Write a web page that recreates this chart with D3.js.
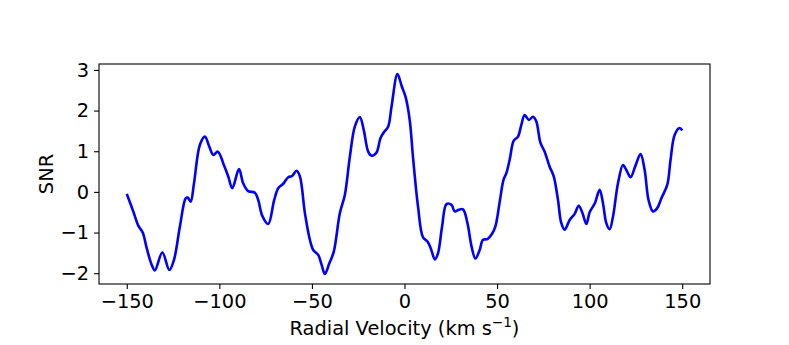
<!DOCTYPE html>
<html>
<head>
<meta charset="utf-8">
<script src="https://cdn.jsdelivr.net/npm/d3@7"></script>
<style>
  body { margin: 0; background: #fff; }
  text { font-family: "DejaVu Sans", sans-serif; }
</style>
</head>
<body>
<div id="chart"></div>
<script>
// velocities (km/s)
var velocity = [-150, -146.5, -143.8, -141.4, -139.2, -136.5, -134.8, -130.8, -127, -124.5,
  -121.3, -118.2, -117.1, -115.5, -113.7, -110.5, -107.8, -105.4, -103.3, -100.8,
  -97.4, -95.2, -93, -89.4, -87.1, -84.4, -80.8, -79, -76.8, -73.6,
  -70.4, -68.2, -65.5, -62.8, -60.7, -58.3, -56.5, -53.8, -51.1, -49.3,
  -46.6, -44.8, -43, -40.7, -38.2, -34.9, -32.2, -29.5, -26.8, -24.1,
  -22, -19.6, -17.8, -15.1, -13, -11.2, -8.8, -7, -3.8, -1.5,
  0.5, 1.5, 3, 4.6, 7.3, 10, 12.4, 14.2, 16.4, 18.1,
  20.3, 22.7, 25.4, 27.1, 29.3, 31.6, 34, 36.2, 38.3, 40.6,
  42.4, 44.8, 47.3, 49.1, 51.4, 53.5, 55, 56.8, 59, 61.3,
  63.1, 64.9, 67.2, 69.4, 71.2, 73.4, 75.7, 78.4, 80.6, 82.9,
  84.7, 86.5, 89.2, 91.9, 94.1, 96.1, 98.2, 100, 102.8, 105.4,
  107.2, 109, 110.8, 112.6, 115.3, 118, 119.8, 122.1, 124.7, 127.5,
  129.7, 131.8, 134.2, 136.5, 138.7, 141.9, 143.7, 145.9, 148.6, 150];

var snr = [-0.05, -0.48, -0.83, -1.0, -1.39, -1.8, -1.93, -1.49, -1.92, -1.67,
  -0.85, -0.16, -0.14, -0.24, 0.21, 1.16, 1.36, 1.11, 0.91, 0.99,
  0.64, 0.38, 0.09, 0.56, 0.21, 0.02, -0.02, -0.2, -0.59, -0.79,
  -0.2, 0.09, 0.2, 0.36, 0.39, 0.52, 0.38, -0.52, -1.18, -1.43,
  -1.55, -1.79, -2.02, -1.77, -1.47, -0.52, -0.07, 0.87, 1.61, 1.84,
  1.52, 0.99, 0.89, 0.97, 1.32, 1.46, 1.61, 2.1, 2.9, 2.6,
  2.35, 2.15, 1.7, 0.85, -0.36, -1.12, -1.22, -1.39, -1.66, -1.51,
  -0.85, -0.3, -0.32, -0.48, -0.44, -0.43, -0.77, -1.34, -1.64, -1.43,
  -1.18, -1.16, -1.03, -0.85, -0.25, 0.3, 0.46, 0.79, 1.26, 1.36,
  1.65, 1.89, 1.77, 1.85, 1.73, 1.21, 0.99, 0.62, 0.38, -0.2,
  -0.77, -0.93, -0.69, -0.54, -0.34, -0.52, -0.79, -0.5, -0.28, 0.05,
  -0.28, -0.77, -0.92, -0.61, 0.21, 0.66, 0.54, 0.36, 0.64, 0.93,
  0.54, -0.2, -0.48, -0.4, -0.16, 0.17, 0.79, 1.4, 1.57, 1.51];

var xTicks = [-150, -100, -50, 0, 50, 100, 150];
var yTicks = [-2, -1, 0, 1, 2, 3];

var width = 789, height = 345;
var margin = {top: 64, right: 79, bottom: 61, left: 99};
var w = width - margin.left - margin.right;
var h = height - margin.top - margin.bottom;
var fontSize = '19.4px';

var svg = d3.select('#chart').append('svg')
    .attr('width', width)
    .attr('height', height);

var g = svg.append('g')
    .attr('transform', 'translate(' + margin.left + ',' + margin.top + ')');

// matplotlib-like 5% padding
var xMin = d3.min(velocity), xMax = d3.max(velocity);
var yMin = d3.min(snr), yMax = d3.max(snr);
var xPad = (xMax - xMin) * 0.05, yPad = (yMax - yMin) * 0.05;

var x = d3.scaleLinear().domain([xMin - xPad, xMax + xPad]).range([0, w]);
var y = d3.scaleLinear().domain([yMin - yPad, yMax + yPad]).range([h, 0]);

var pts = velocity.map(function(v, i) { return [v, snr[i]]; });

var line = d3.line()
    .x(function(d) { return x(d[0]); })
    .y(function(d) { return y(d[1]); })
    .curve(d3.curveCatmullRom.alpha(0.5));

g.append('path')
    .datum(pts)
    .attr('d', line)
    .attr('fill', 'none')
    .attr('stroke', '#0000ff')
    .attr('stroke-width', 2.6)
    .attr('stroke-linejoin', 'round');

var xAxis = g.append('g')
    .attr('transform', 'translate(0,' + h + ')')
    .call(d3.axisBottom(x).tickValues(xTicks).tickFormat(d3.format('d'))
      .tickSizeOuter(0).tickSize(4.9).tickPadding(4.9));
var yAxis = g.append('g')
    .call(d3.axisLeft(y).tickValues(yTicks).tickFormat(d3.format('d'))
      .tickSizeOuter(0).tickSize(4.9).tickPadding(4.9));

[xAxis, yAxis].forEach(function(a) {
  a.select('.domain').remove();
  a.selectAll('.tick line').attr('stroke', '#000').attr('stroke-width', 1.1);
  a.selectAll('.tick text')
      .attr('fill', '#000')
      .style('font-family', '"DejaVu Sans", sans-serif')
      .style('font-size', fontSize);
});

// frame
g.append('rect')
    .attr('width', w)
    .attr('height', h)
    .attr('fill', 'none')
    .attr('stroke', '#000')
    .attr('stroke-width', 1.1);

// axis labels
var xl = svg.append('text')
    .attr('x', margin.left + w / 2)
    .attr('y', 335)
    .attr('text-anchor', 'middle')
    .style('font-size', fontSize);
xl.append('tspan').text('Radial Velocity (km s');
xl.append('tspan').attr('dy', -8).style('font-size', '13.6px').text('\u22121');
xl.append('tspan').attr('dy', 8).text(')');

svg.append('text')
    .attr('transform', 'translate(53,' + (margin.top + h / 2) + ') rotate(-90)')
    .attr('text-anchor', 'middle')
    .style('font-size', fontSize)
    .text('SNR');
</script>
</body>
</html>
